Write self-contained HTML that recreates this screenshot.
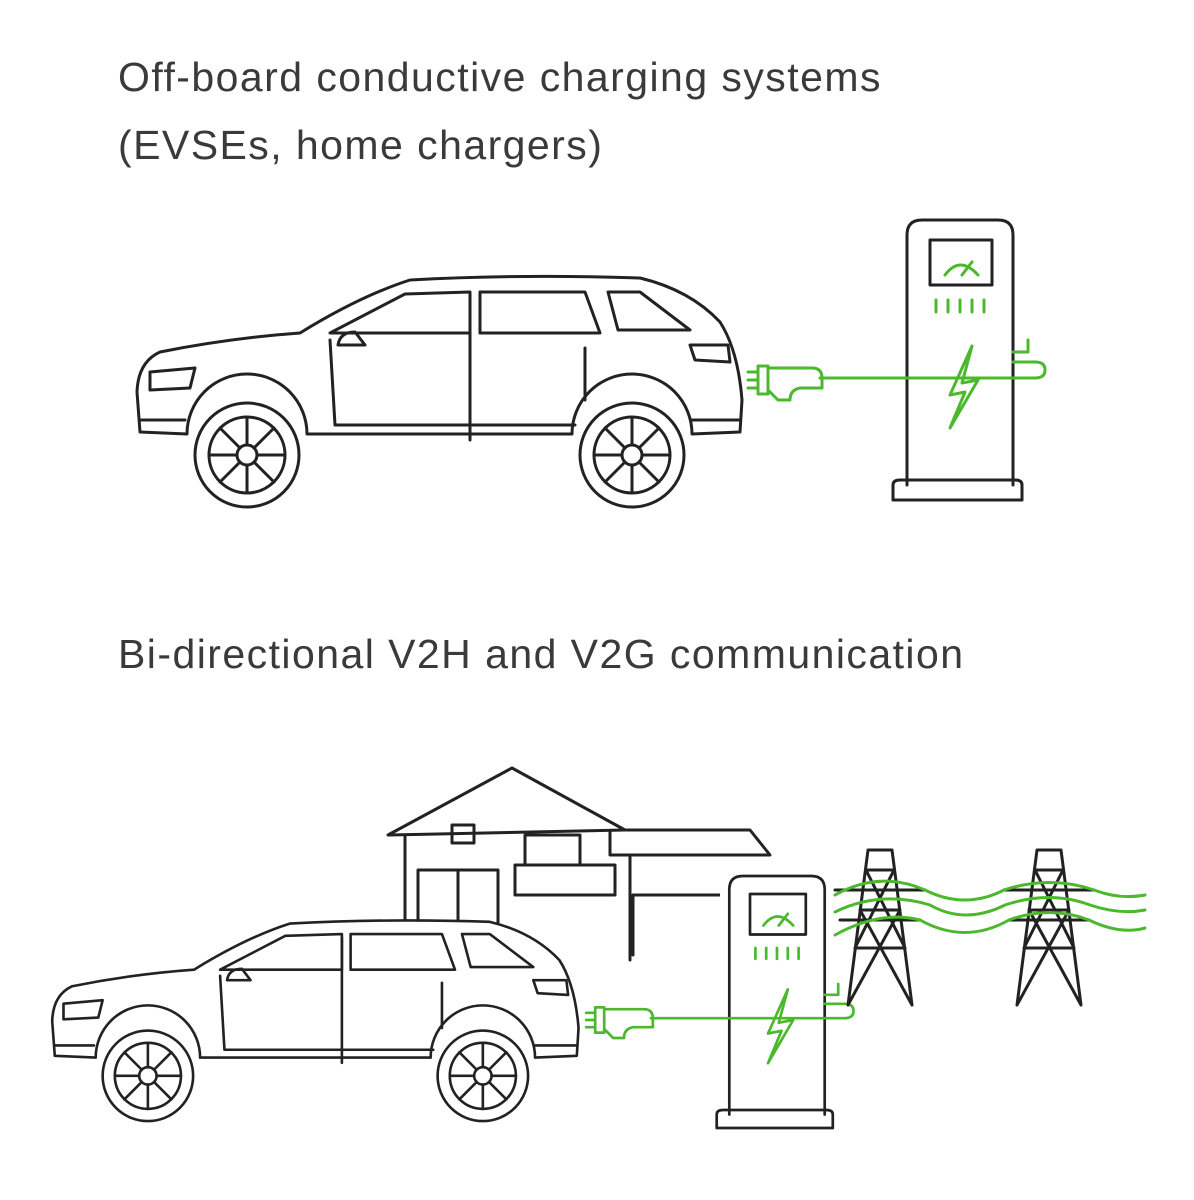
<!DOCTYPE html>
<html><head><meta charset="utf-8"><style>
html,body{margin:0;padding:0;background:#fff;}
body{width:1194px;height:1200px;position:relative;overflow:hidden;font-family:"Liberation Sans",sans-serif;}
.t{position:absolute;left:118px;color:#3a3a3a;font-size:41px;letter-spacing:1.45px;}
</style></head><body>
<div class="t" style="top:54px">Off-board conductive charging systems</div>
<div class="t" style="top:122px">(EVSEs, home chargers)</div>
<div class="t" style="top:631px">Bi-directional V2H and V2G communication</div>
<svg width="1194" height="1200" style="position:absolute;left:0;top:0" fill="none" stroke-linecap="round" stroke-linejoin="round">
<defs>
<g id="car" stroke="#222" stroke-width="3">
<path fill="#fff" d="M140 432 L137 392 Q138 362 160 352 Q230 338 300 333 Q360 296 410 280 Q520 274 640 278 Q690 290 720 322 Q738 350 742 400 L740 432 L692 434 A60 60 0 0 0 572 434 L307 434 A60 60 0 0 0 187 434 Z"/>
<circle cx="247" cy="455" r="52" fill="#fff"/><circle cx="247" cy="455" r="38"/><circle cx="247" cy="455" r="10"/>
<circle cx="632" cy="455" r="52" fill="#fff"/><circle cx="632" cy="455" r="38"/><circle cx="632" cy="455" r="10"/>
<path d="M247 417 L247 445 M247 465 L247 493 M209 455 L237 455 M257 455 L285 455 M220 428 L240 448 M254 462 L274 482 M274 428 L254 448 M240 462 L220 482"/>
<path d="M632 417 L632 445 M632 465 L632 493 M594 455 L622 455 M642 455 L670 455 M605 428 L625 448 M639 462 L659 482 M659 428 L639 448 M625 462 L605 482"/>
<path d="M330 333 L405 294 L470 292 L470 333 Z"/>
<path d="M480 292 L585 292 L600 333 L480 333 Z"/>
<path d="M608 292 L640 292 L690 330 L618 330 Z"/>
<path d="M470 296 L470 440 M330 340 L335 425 L575 425 M585 348 L585 400"/>
<path d="M338 345 Q340 332 355 332 L365 345 Z"/>
<path d="M150 372 L195 368 L190 388 L150 390 Z"/>
<path d="M690 345 L728 345 L730 362 L695 360 Z"/>
<path d="M140 420 L185 420 M692 420 L740 420"/>
</g>
<g id="chg">
<path stroke="#222" stroke-width="3" d="M907 485 L907 235 Q907 220 922 220 L998 220 Q1013 220 1013 235 L1013 485 M893 500 L893 485 Q893 480 900 480 L1015 480 Q1022 480 1022 485 L1022 500 Z"/>
<rect x="930" y="240" width="62" height="45" stroke="#222" stroke-width="3"/>
<path stroke="#4cb82e" stroke-width="3" d="M945 275 Q960 255 978 275 M962 275 L972 262 M936 300 L936 312 M948 300 L948 312 M960 300 L960 312 M972 300 L972 312 M984 300 L984 312 M1013 352 L1028 352 L1028 340 M972 346 L950 395 L965 392 L950 428 L978 380 L962 383 Z M820 378 L1035 378 Q1045 378 1045 370 Q1045 362 1035 362 L1013 362"/>
<path stroke="#4cb82e" stroke-width="3" d="M768 368 L812 368 Q822 368 822 378 L822 388 L800 388 Q790 390 790 400 L778 400 L768 390 Z M748 372 L758 372 M748 380 L758 380 M748 388 L758 388 M758 366 L768 366 L768 394 L758 394 Z"/>
</g>
</defs>
<use href="#car"/>
<use href="#chg"/>
<g stroke="#222" stroke-width="3">
<path d="M388 835 L512 768 L625 830 L390 835 Z"/>
<path d="M405 835 L405 965 M610 832 L610 855 L770 855 L750 830 L620 830"/>
<rect x="452" y="825" width="22" height="18"/>
<path d="M418 870 L498 870 L498 965 M418 870 L418 965 M458 870 L458 965"/>
<rect x="525" y="835" width="55" height="30"/>
<rect x="515" y="865" width="100" height="30"/>
<path d="M630 855 L630 960 M633 895 L720 895 M633 895 L633 955"/>
</g>
<g transform="translate(-67,680) scale(0.87)"><use href="#car"/></g>
<rect x="720" y="880" width="112" height="250" fill="#fff"/>
<g transform="translate(-87,678) scale(0.9)"><use href="#chg"/></g>
<g stroke="#222" stroke-width="3">
<path d="M848 1005 L868 850 L892 850 L912 1005 M855 948 L905 948 M860 910 L900 910 M866 870 L894 870 M848 1005 L900 910 M912 1005 L860 910 M855 948 L894 870 M905 948 L866 870 M835 890 L925 890 M840 920 L920 920"/>
<path d="M1017 1005 L1037 850 L1061 850 L1081 1005 M1024 948 L1074 948 M1029 910 L1069 910 M1035 870 L1063 870 M1017 1005 L1069 910 M1081 1005 L1029 910 M1024 948 L1063 870 M1074 948 L1035 870 M1004 890 L1094 890 M1009 920 L1089 920"/>
</g>
<g stroke="#4cb82e" stroke-width="3">
<path d="M835 895 Q880 870 925 890 Q965 910 1004 890 Q1050 875 1094 890 Q1120 900 1145 895"/>
<path d="M835 912 Q880 890 930 905 Q965 925 1005 905 Q1050 890 1090 905 Q1120 915 1145 910"/>
<path d="M835 935 Q880 910 920 920 Q965 945 1009 920 Q1050 905 1089 920 Q1120 935 1145 928"/>
</g>
</svg>
</body></html>
